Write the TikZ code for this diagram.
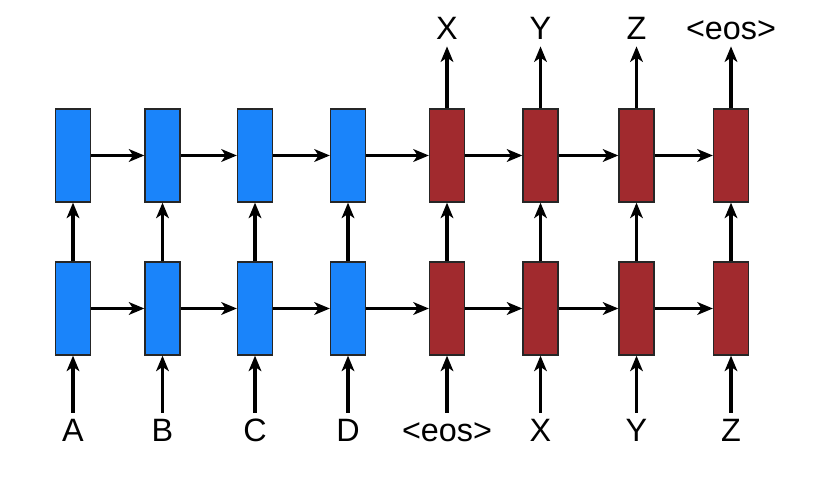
\documentclass[tikz,border=0pt]{standalone}
\usepackage{fontspec}
\setmainfont{Liberation Sans}
\usetikzlibrary{arrows.meta,positioning}
\definecolor{encblue}{RGB}{26,132,250}
\definecolor{decred}{RGB}{161,42,46}

\begin{document}
\begin{tikzpicture}[x=0.025cm,y=0.025cm,
    cell/.style={draw=black!85, line width=0.9pt, minimum width=0.875cm, minimum height=2.325cm, inner sep=0pt},
    enc/.style={cell, fill=encblue},
    dec/.style={cell, fill=decred},
    lab/.style={font=\fontsize{23}{25}\selectfont, inner sep=0pt, outer sep=0.16cm, text height=16.4pt, text depth=0pt},
    link/.style={-{Stealth[length=11pt,width=9pt,inset=3pt]}, line width=2.2pt}]
    \useasboundingbox (0,0) rectangle (828,486);

    % Cells and inputs
    \foreach \x/\c/\s [count=\i] in {73/enc/A, 162.5/enc/B, 255/enc/C, 348/enc/D,
                                    447/dec/<eos>, 540.5/dec/X, 636.5/dec/Y, 731/dec/Z} {
        \node[\c] (l\i) at (\x,177.5) {};
        \node[\c] (u\i) at (\x,330.5) {};
        \node[lab, anchor=base] (in\i) at (\x,44) {\s};
        \draw[link] (in\i) -- (l\i);
        \draw[link] (l\i) -- (u\i);
    }

    % Recurrent links
    \foreach \i [evaluate=\i as \j using int(\i+1)] in {1,...,7} {
        \draw[link] (l\i) -- (l\j);
        \draw[link] (u\i) -- (u\j);
    }

    % Outputs
    \foreach \i/\t in {5/X, 6/Y, 7/Z, 8/<eos>} {
        \node[lab, anchor=base] (out\i) at (u\i |- 0,446) {\t};
        \draw[link] (u\i) -- (out\i);
    }

\end{tikzpicture}
\end{document}
